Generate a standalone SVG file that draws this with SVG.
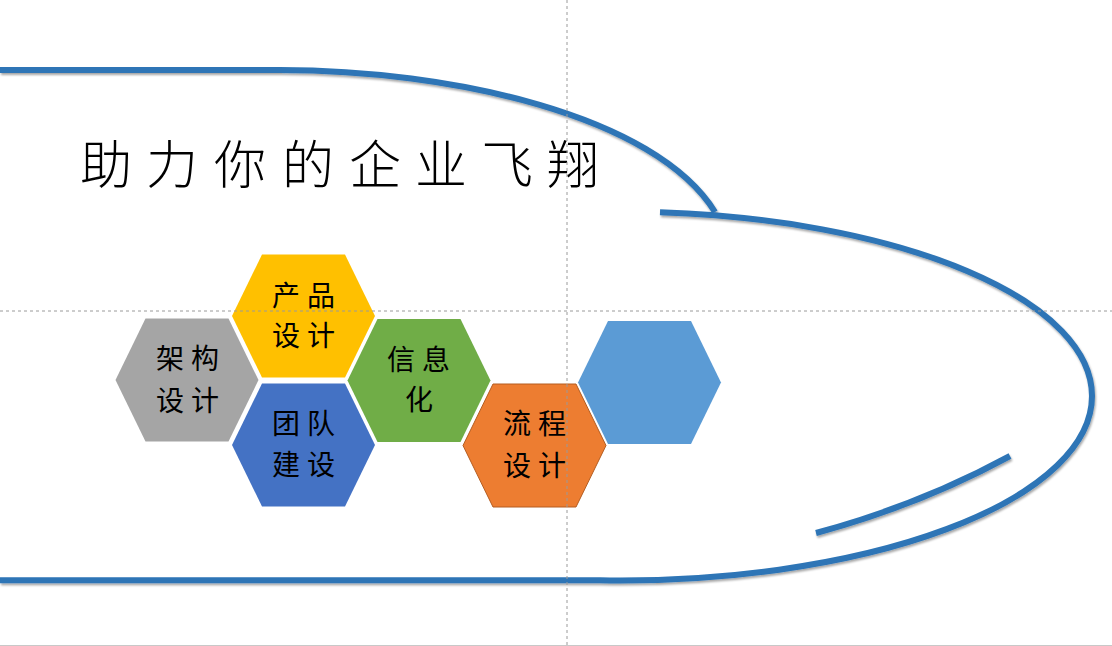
<svg xmlns="http://www.w3.org/2000/svg" xmlns:xlink="http://www.w3.org/1999/xlink" width="1112" height="646" viewBox="0 0 1112 646">
<style>
.curve{fill:none;stroke:#2E75B6;stroke-width:6;filter:url(#sh)}
.lbl{font-family:"Noto Sans CJK SC","Noto Sans",sans-serif;font-size:28px;fill:#000;text-anchor:middle}
.title{font-family:"Noto Sans CJK SC","Noto Sans",sans-serif;font-size:52px;font-weight:300;fill:#000;text-anchor:middle}
.guide{stroke:#9a9a9a;stroke-width:1;stroke-dasharray:3 3;fill:none}
</style>
<defs>
<filter id="sh" x="-5%" y="-5%" width="110%" height="120%">
<feDropShadow dx="1" dy="2" stdDeviation="1.2" flood-color="#000" flood-opacity="0.35"/>
</filter>
<polygon id="hex" points="-71.5,0 -41.5,-61.5 41.5,-61.5 71.5,0 41.5,61.5 -41.5,61.5"/>
</defs>
<rect width="1112" height="646" fill="#fff"/>
<g id="connectors">
<path class="curve" d="M0,70 L280,70 C450,70 655,115 715,212"/>
<path class="curve" d="M660,212.2 A472 184.5 0 0 1 1092,396 A472 184.5 0 0 1 600,580.3 L0,580.3"/>
<path class="curve" d="M816,533 Q920,505 1010,456"/>
</g>
<g id="title">
<text class="title" x="106 172 240 308 375 441 507 573" y="184">助力你的企业飞翔</text>
</g>
<g id="node-jiagou">
<use xlink:href="#hex" transform="translate(187,380)" fill="#A5A5A5"/>
<text class="lbl" x="170 205" y="369">架构</text>
<text class="lbl" x="170 205" y="411">设计</text>
</g>
<g id="node-chanpin">
<use xlink:href="#hex" transform="translate(303.5,316)" fill="#FFC000"/>
<text class="lbl" x="286 321" y="306">产品</text>
<text class="lbl" x="286 321" y="346">设计</text>
</g>
<g id="node-tuandui">
<use xlink:href="#hex" transform="translate(303.5,445)" fill="#4472C4"/>
<text class="lbl" x="286 321" y="434">团队</text>
<text class="lbl" x="286 321" y="475">建设</text>
</g>
<g id="node-xinxi">
<use xlink:href="#hex" transform="translate(419,380.5)" fill="#70AD47"/>
<text class="lbl" x="401 436" y="370">信息</text>
<text class="lbl" x="419" y="410">化</text>
</g>
<g id="node-liucheng">
<use xlink:href="#hex" transform="translate(534.5,445.5)" fill="#ED7D31" stroke="#B55D20" stroke-width="1"/>
<text class="lbl" x="517 552" y="434">流程</text>
<text class="lbl" x="517 552" y="476">设计</text>
</g>
<g id="node-blank">
<use xlink:href="#hex" transform="translate(649.5,382.5)" fill="#5B9BD5"/>
</g>
<g id="guides">
<line class="guide" x1="567" y1="0" x2="567" y2="646"/>
<line class="guide" x1="0" y1="311" x2="1112" y2="311"/>
<line x1="0" y1="645.5" x2="1112" y2="645.5" stroke="#c8c8c8" stroke-width="1"/>
</g>
</svg>
